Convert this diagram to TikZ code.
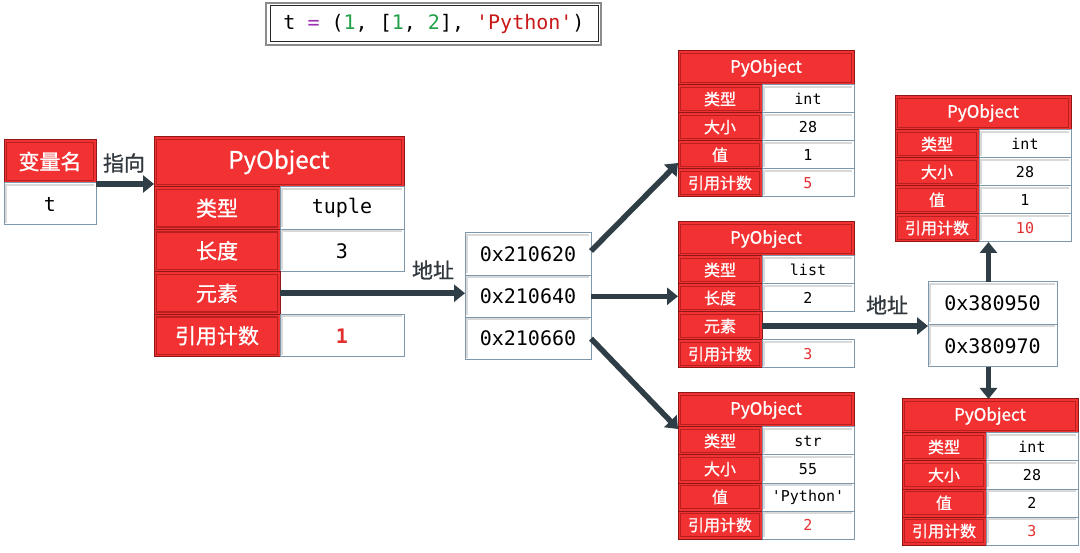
\documentclass[tikz,border=0pt]{standalone}
\usepackage{fontspec}
\setmainfont{Noto Sans CJK SC}
\newfontfamily\cjkb{Noto Sans CJK SC}[FakeBold=0.9]
\newfontfamily\mono{DejaVu Sans Mono}
\usetikzlibrary{arrows.meta}
\definecolor{cellred}{HTML}{F23232}
\definecolor{darkred}{HTML}{8E1818}
\definecolor{innerred}{HTML}{B82020}
\definecolor{wborder}{HTML}{7F97AB}
\definecolor{arrowc}{HTML}{2F3E46}
\definecolor{valred}{HTML}{E23030}
\definecolor{codegreen}{HTML}{22A048}
\definecolor{codepurple}{HTML}{9B30B0}
\definecolor{codered}{HTML}{C81818}
\definecolor{labelc}{HTML}{30383E}
\newcommand\fbh{\cjkb\fontsize{24}{24}\selectfont}
\newcommand\fbc{\cjkb\fontsize{21}{21}\selectfont}
\newcommand\fbm{\mono\fontsize{20}{20}\selectfont}
\newcommand\fsh{\cjkb\fontsize{17}{17}\selectfont}
\newcommand\fsc{\cjkb\fontsize{16}{16}\selectfont}
\newcommand\fsm{\mono\fontsize{15}{15}\selectfont}
\newcommand\faddr{\mono\fontsize{20}{20}\selectfont}
\tikzset{
  cell/.style={inner sep=0pt, outer sep=0pt, line width=1pt},
  redcell/.style={cell, fill=cellred, draw=darkred, text=white,
    path picture={\draw[innerred, line width=1.2pt]
      ([shift={(2.5pt,-2.5pt)}]path picture bounding box.north west) rectangle
      ([shift={(-2.5pt,2.5pt)}]path picture bounding box.south east);}},
  whitecell/.style={cell, fill=white, draw=wborder,
    path picture={\draw[black!15, line width=2pt]
      ([shift={(2pt,2pt)}]path picture bounding box.south west) --
      ([shift={(2pt,-2pt)}]path picture bounding box.north west) --
      ([shift={(-2pt,-2pt)}]path picture bounding box.north east);}},
  conn/.style={arrowc, line width=5.5pt, -{Triangle[length=11pt,width=17pt]}},
  lbl/.style={text=labelc, font=\fbc, inner sep=0pt},
}
% small object helpers: name, x-left, y-top, text
\newcommand\shead[3]{\node[redcell, minimum width=176pt, minimum height=34pt, font=\fsh] (#1) at ({#2+88},{#3+17}) {PyObject};}
\newcommand\slab[4]{\node[redcell, minimum width=84pt, minimum height=28pt, font=\fsc] (#1) at ({#2+42},{#3+14}) {#4};}
\newcommand\sval[4]{\node[whitecell, minimum width=92pt, minimum height=28pt, font=\fsm] (#1) at ({#2+130},{#3+14}) {#4};}
\begin{document}
\begin{tikzpicture}[x=1pt,y=-1pt]
\useasboundingbox[fill=white] (0,0) rectangle (1080,553);

% title
\draw[black!45, line width=1.5pt] (266,3) rectangle (601,45);
\draw[black!85, line width=1pt] (270,6) rectangle (598,42);
\node[inner sep=0pt, font=\faddr] (title) at (434,24)
  {t \textcolor{codepurple}{=} (\textcolor{codegreen}{1}, [\textcolor{codegreen}{1}, \textcolor{codegreen}{2}], \textcolor{codered}{\textquotesingle Python\textquotesingle})};

% variable
\node[redcell, minimum width=92pt, minimum height=43pt, font=\fbc] (vl) at (50,161.5) {变量名};
\node[whitecell, minimum width=92pt, minimum height=42pt, font=\fbm] (vv) at (50,204) {t};

% big object
\node[redcell, minimum width=250pt, minimum height=50pt, font=\fbh] (bh) at (279,162) {PyObject};
\node[redcell, minimum width=126pt, minimum height=42.5pt, font=\fbc] (b1l) at (217,208.25) {类型};
\node[whitecell, minimum width=124pt, minimum height=42.5pt, font=\fbm] (b1v) at (342,208.25) {tuple};
\node[redcell, minimum width=126pt, minimum height=42.5pt, font=\fbc] (b2l) at (217,250.75) {长度};
\node[whitecell, minimum width=124pt, minimum height=42.5pt, font=\fbm] (b2v) at (342,250.75) {3};
\node[redcell, minimum width=126pt, minimum height=42.5pt, font=\fbc] (b3l) at (217,293.25) {元素};
\node[redcell, minimum width=126pt, minimum height=42.5pt, font=\fbc] (b4l) at (217,335.75) {引用计数};
\node[whitecell, minimum width=124pt, minimum height=42.5pt, font=\fbm\bfseries, text=valred] (b4v) at (342,335.75) {1};

% address box 1
\node[whitecell, minimum width=126pt, minimum height=42.3pt, font=\faddr] (a1) at (528,254) {0x210620};
\node[whitecell, minimum width=126pt, minimum height=42.3pt, font=\faddr] (a2) at (528,296.3) {0x210640};
\node[whitecell, minimum width=126pt, minimum height=42.3pt, font=\faddr] (a3) at (528,338.6) {0x210660};

% object A (int 1)
\shead{Ah}{678}{51}
\slab{A1}{678}{85}{类型}  \sval{A1v}{678}{85}{int}
\slab{A2}{678}{113}{大小} \sval{A2v}{678}{113}{28}
\slab{A3}{678}{141}{值}   \sval{A3v}{678}{141}{1}
\slab{A4}{678}{169}{引用计数} \sval{A4v}{678}{169}{\textcolor{valred}{5}}

% object B (list)
\shead{Bh}{678}{222}
\slab{B1}{678}{256}{类型}  \sval{B1v}{678}{256}{list}
\slab{B2}{678}{284}{长度}  \sval{B2v}{678}{284}{2}
\slab{B3}{678}{312}{元素}
\slab{B4}{678}{340}{引用计数} \sval{B4v}{678}{340}{\textcolor{valred}{3}}

% object C (str)
\shead{Ch}{678}{393}
\slab{C1}{678}{427}{类型}  \sval{C1v}{678}{427}{str}
\slab{C2}{678}{455}{大小} \sval{C2v}{678}{455}{55}
\slab{C3}{678}{483}{值}   \sval{C3v}{678}{483}{\textquotesingle Python\textquotesingle}
\slab{C4}{678}{511}{引用计数} \sval{C4v}{678}{511}{\textcolor{valred}{2}}

% object D (int 1, ref 10)
\shead{Dh}{895}{96}
\slab{D1}{895}{130}{类型}  \sval{D1v}{895}{130}{int}
\slab{D2}{895}{158}{大小} \sval{D2v}{895}{158}{28}
\slab{D3}{895}{186}{值}   \sval{D3v}{895}{186}{1}
\slab{D4}{895}{214}{引用计数} \sval{D4v}{895}{214}{\textcolor{valred}{10}}

% object E (int 2)
\shead{Eh}{902}{399}
\slab{E1}{902}{433}{类型}  \sval{E1v}{902}{433}{int}
\slab{E2}{902}{461}{大小} \sval{E2v}{902}{461}{28}
\slab{E3}{902}{489}{值}   \sval{E3v}{902}{489}{2}
\slab{E4}{902}{517}{引用计数} \sval{E4v}{902}{517}{\textcolor{valred}{3}}

% address box 2
\node[whitecell, minimum width=129pt, minimum height=42.5pt, font=\faddr] (c1) at (992.5,303.25) {0x380950};
\node[whitecell, minimum width=129pt, minimum height=42.5pt, font=\faddr] (c2) at (992.5,345.75) {0x380970};

% connectors
\draw[conn] ([yshift=-1pt]vl.south east) -- ([yshift=-1pt]vl.south east -| bh.west);
\node[lbl] (l1) at (124,163) {指向};
\draw[conn] (b3l.east) -- (b3l.east -| a2.west);
\node[lbl] (l2) at (433,270) {地址};
\draw[conn] ([yshift=3pt]a1.east) -- ([yshift=-8pt]A3.west);
\draw[conn] (a2.east) -- (a2.east -| B2.west);
\draw[conn] (a3.east) -- ([yshift=-2pt]Ch.south west);
\draw[conn] (B3.east) -- (B3.east -| c1.west);
\node[lbl] (l3) at (887,305) {地址};
\draw[conn] ([xshift=-4pt]c1.north) -- ([xshift=-4pt]c1.north |- D4.south);
\draw[conn] ([xshift=-4pt]c2.south) -- ([xshift=-4pt]c2.south |- Eh.north);
\end{tikzpicture}
\end{document}
